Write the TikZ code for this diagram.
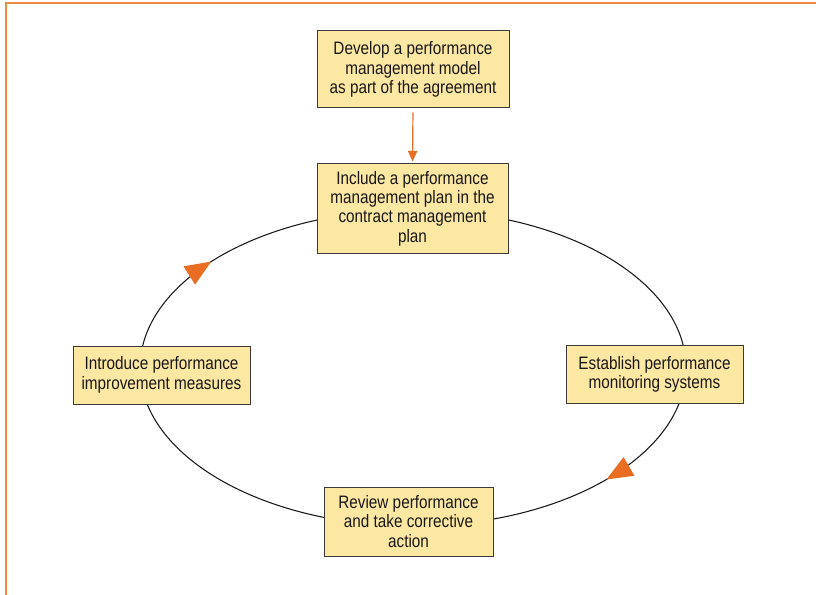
\documentclass[tikz,border=0pt]{standalone}
\usepackage{fontspec}
\setmainfont{Liberation Sans}[FakeStretch=0.85]
\usetikzlibrary{arrows.meta,decorations.markings}
\definecolor{boxfill}{HTML}{FCE8A2}
\definecolor{boxline}{HTML}{3A3A3A}
\definecolor{inktext}{HTML}{1A1718}
\definecolor{flow}{HTML}{E96D22}
\definecolor{frameline}{HTML}{EE8B3E}
\tikzset{
  stepbox/.style={draw=boxline, line width=0.75pt, fill=boxfill, align=center,
    text=inktext, inner sep=0pt, font=\fontsize{13.5}{14.5}\selectfont},
  cycleline/.style={draw=black!90, line width=0.8pt},
  cyclehead/.tip={Triangle[length=19.5pt, width=16pt, fill=flow, color=flow]},
}
\begin{document}
\begin{tikzpicture}[x=0.75pt, y=-0.75pt]
  \useasboundingbox (0,0) rectangle (816,595);
  % page frame
  \draw[draw=frameline, line width=1.5pt] (5.5,595) -- (5.5,3.5) -- (816,3.5);

  % management cycle
  \coordinate (cyc) at (413,368);
  \draw[cycleline, postaction={decorate, decoration={markings,
      mark=at position 0.104 with {\arrow{cyclehead}},
      mark=at position 0.597 with {\arrow{cyclehead}}}}]
    (cyc) ellipse [x radius=273, y radius=158];

  % steps
  \node[stepbox, minimum width=144pt, minimum height=57.75pt] (model) at (413,69.5)
    {Develop a performance\\management model\\as part of the agreement};
  \node[stepbox, minimum width=143.25pt, minimum height=66.75pt] (plan) at (412.5,208.5)
    {Include a performance\\management plan in the\\contract management\\plan};
  \node[stepbox, minimum width=132.75pt, minimum height=44pt] (monitor) at (654.5,374.5)
    {Establish performance\\monitoring systems};
  \node[stepbox, minimum width=126.75pt, minimum height=51.75pt] (review) at (408.5,521.5)
    {Review performance\\and take corrective\\action};
  \node[stepbox, minimum width=132.75pt, minimum height=43.5pt] (improve) at (161.5,375)
    {Introduce performance\\improvement measures};

  % model feeds the plan
  \draw[flow, line width=0.9pt, -{Triangle[length=8pt, width=7pt]}, shorten >=1.5pt, shorten <=3pt]
    (model.south) -- (plan.north);
\end{tikzpicture}
\end{document}
